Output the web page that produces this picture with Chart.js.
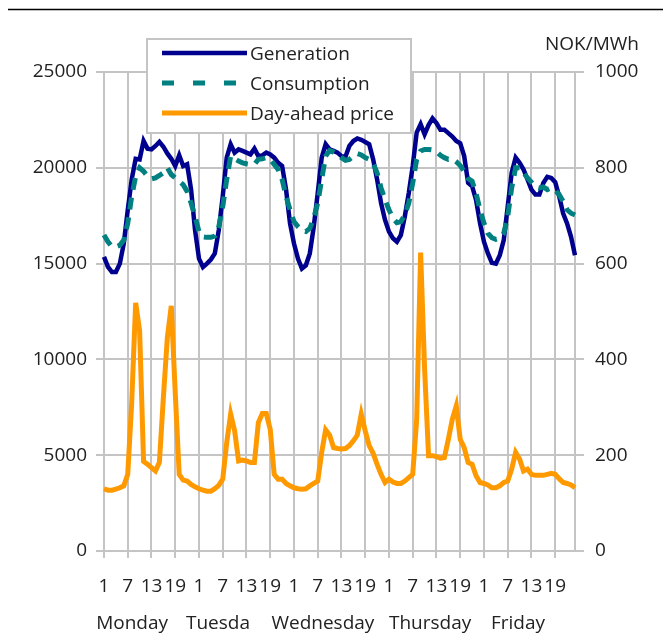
<!DOCTYPE html>
<html>
<head>
<meta charset="utf-8">
<script src="https://cdn.jsdelivr.net/npm/chart.js@4.4.1/dist/chart.umd.min.js"></script>
<style>
  html, body { margin: 0; padding: 0; background: #fff; }
  canvas { display: block; }
</style>
</head>
<body>
<canvas id="chart" width="663" height="635"></canvas>
<script>
// Hourly data, Monday..Friday (24 values per day)
const days = ["Monday", "Tuesda", "Wednesday", "Thursday", "Friday"]
const hourOfDay = [1, 2, 3, 4, 5, 6, 7, 8, 9, 10, 11, 12, 13, 14, 15, 16, 17, 18, 19, 20, 21, 22, 23, 24]
const tickHours = [1, 7, 13, 19]

// MWh/h
const generation = [
  15350, 14830, 14560, 14560, 15000, 16050, 17800, 19400, 20470, 20440, 21400, 21000,
  20960, 21140, 21350, 21100, 20750, 20470, 20090, 20650, 20090, 20180, 18860, 16750,
  15260, 14820, 15000, 15210, 15530, 16750, 18510, 20530, 21230, 20790, 20960, 20880,
  20790, 20700, 21000, 20610, 20650, 20790, 20700, 20530, 20260, 20090, 18860, 17100,
  16050, 15260, 14740, 14910, 15530, 16930, 18680, 20530, 21230, 20960, 20880, 20790,
  20610, 20580, 21140, 21400, 21530, 21460, 21350, 21230, 20440, 19390, 18160, 17280,
  16670, 16320, 16140, 16490, 17460, 18680, 20090, 21840, 22280, 21750, 22230, 22580,
  22330, 21980, 21980, 21810, 21630, 21400, 21280, 20610, 19210, 19040, 18330, 17110,
  16140, 15530, 15040, 15000, 15440, 16230, 17980, 19740, 20530, 20260, 19910, 19390,
  18860, 18600, 18600, 19210, 19530, 19470, 19250, 18510, 17630, 17100, 16400, 15440
]
const consumption = [
  16490, 16140, 15880, 15880, 15960, 16230, 17100, 18510, 19560, 20000, 19820, 19560,
  19420, 19470, 19600, 19740, 20000, 19650, 19470, 19300, 19120, 18770, 18160, 17460,
  16670, 16400, 16370, 16370, 16440, 16930, 17980, 19390, 20610, 20470, 20350, 20260,
  20210, 20180, 20180, 20440, 20470, 20530, 20440, 20180, 19910, 19390, 18510, 17810,
  17190, 16930, 16720, 16670, 16840, 17370, 18160, 19390, 20610, 20900, 20820, 20700,
  20530, 20390, 20440, 20610, 20740, 20670, 20530, 20440, 20230, 19740, 18950, 18330,
  17810, 17370, 17140, 17190, 17540, 18160, 19210, 20440, 20880, 20960, 20960, 20930,
  20840, 20650, 20530, 20440, 20470, 20320, 20120, 19820, 19440, 19300, 18680, 17810,
  17110, 16580, 16350, 16260, 16320, 16580, 17460, 18950, 20000, 20000, 19740, 19470,
  19250, 19000, 18950, 19000, 18860, 18950, 18820, 18600, 18250, 17810, 17630, 17540
]
// NOK/MWh
const price = [
  130, 127, 127, 129, 132, 136, 160, 310, 518, 460, 187, 181,
  174, 167, 185, 320, 445, 512, 330, 160, 148, 146, 139, 134,
  130, 127, 125, 125, 130, 137, 150, 226, 286, 251, 188, 190,
  188, 185, 185, 268, 287, 287, 254, 160, 150, 150, 141, 136,
  132, 130, 129, 130, 136, 141, 146, 206, 253, 242, 216, 214,
  213, 214, 220, 230, 242, 286, 251, 220, 204, 181, 160, 143,
  150, 144, 141, 141, 146, 153, 160, 275, 623, 380, 199, 199,
  197, 194, 195, 233, 275, 303, 233, 216, 185, 181, 157, 143,
  141, 138, 132, 132, 136, 143, 146, 171, 206, 192, 167, 171,
  160, 158, 158, 158, 160, 162, 160, 151, 143, 141, 138, 132
]

const leftTicks = [0, 5000, 10000, 15000, 20000, 25000]
const rightTicks = [0, 200, 400, 600, 800, 1000]

const labels = days.flatMap(d => hourOfDay.map(h => d + " " + h))

const fontFamily = "'Open Sans', sans-serif"
const fontSize = 19
const textColor = "#222"
const gridColor = "#c4c4c4"

Chart.defaults.font.family = fontFamily
Chart.defaults.font.size = fontSize
Chart.defaults.color = textColor

// Legend box and extra texts drawn on top of the plot
const decorations = {
  id: "decorations",
  afterDatasetsDraw(chart) {
    const ctx = chart.ctx
    ctx.save()
    ctx.fillStyle = "#fff"
    ctx.fillRect(147, 39, 264, 94)
    ctx.strokeStyle = gridColor
    ctx.lineWidth = 2
    ctx.strokeRect(147, 39, 264, 94)
    ctx.font = fontSize + "px " + fontFamily
    ctx.textBaseline = "middle"
    chart.data.datasets.forEach((ds, k) => {
      const y = 53 + k * 30
      ctx.beginPath()
      ctx.strokeStyle = ds.borderColor
      ctx.lineWidth = ds.borderWidth
      ctx.setLineDash(ds.borderDash ? [12, 19] : [])
      ctx.moveTo(162, y)
      ctx.lineTo(247, y)
      ctx.stroke()
      ctx.setLineDash([])
      ctx.fillStyle = textColor
      ctx.fillText(ds.label, 250, y + 2)
    })
    ctx.restore()
  },
  afterDraw(chart) {
    const ctx = chart.ctx
    const x = chart.scales.x
    ctx.save()
    // rule across the top
    ctx.beginPath()
    ctx.strokeStyle = "#000"
    ctx.lineWidth = 1.4
    ctx.moveTo(8, 9.5)
    ctx.lineTo(663, 9.5)
    ctx.stroke()
    ctx.font = fontSize + "px " + fontFamily
    ctx.fillStyle = textColor
    ctx.textBaseline = "middle"
    ctx.textAlign = "right"
    ctx.fillText("NOK/MWh", 639, 45)
    // day names under the hour ticks
    const dayLabelAt = [7.1, 28.8, 55.3, 82.4, 104.6]
    ctx.textAlign = "center"
    ctx.textBaseline = "alphabetic"
    days.forEach((d, k) => {
      ctx.fillText(d, x.getPixelForValue(dayLabelAt[k]), 629)
    })
    ctx.restore()
  }
}

new Chart(document.getElementById("chart"), {
  type: "line",
  data: {
    labels: labels,
    datasets: [
      {
        label: "Generation",
        data: generation,
        borderColor: "#00008f",
        borderWidth: 4.5,
        pointRadius: 0,
        yAxisID: "y",
        order: 3
      },
      {
        label: "Consumption",
        data: consumption,
        borderColor: "#008080",
        borderWidth: 5,
        borderDash: [12, 8],
        pointRadius: 0,
        yAxisID: "y",
        order: 2
      },
      {
        label: "Day-ahead price",
        data: price,
        borderColor: "#ff9900",
        borderWidth: 5,
        pointRadius: 0,
        yAxisID: "y1",
        order: 1
      }
    ]
  },
  options: {
    responsive: false,
    animation: false,
    events: [],
    layout: { padding: { top: 72, left: 0, right: 0, bottom: 0 } },
    plugins: {
      legend: { display: false },
      tooltip: { enabled: false }
    },
    scales: {
      x: {
        type: "category",
        offset: false,
        afterBuildTicks: s => { s.ticks = s.ticks.filter(t => t.value % 6 === 0) },
        afterFit: s => { s.height = 84 },
        ticks: {
          autoSkip: false,
          maxRotation: 0,
          padding: 17,
          callback: v => {
            const h = hourOfDay[v % 24]
            return tickHours.includes(h) ? String(h) : ""
          }
        },
        grid: { color: gridColor, lineWidth: 2, tickLength: 7 },
        border: { color: gridColor, width: 2 }
      },
      y: {
        position: "left",
        min: leftTicks[0],
        max: leftTicks[leftTicks.length - 1],
        afterFit: s => { s.width = 104 },
        ticks: { stepSize: leftTicks[1] - leftTicks[0], padding: 9, callback: v => String(v) },
        grid: { color: gridColor, lineWidth: 2, tickLength: 8 },
        border: { color: gridColor, width: 2 }
      },
      y1: {
        position: "right",
        min: rightTicks[0],
        max: rightTicks[rightTicks.length - 1],
        afterFit: s => { s.width = 88 },
        ticks: { stepSize: rightTicks[1] - rightTicks[0], padding: 11, callback: v => String(v) },
        grid: { drawOnChartArea: false, color: gridColor, lineWidth: 2, tickLength: 9 },
        border: { color: gridColor, width: 2 }
      }
    }
  },
  plugins: [decorations]
})
</script>
</body>
</html>
